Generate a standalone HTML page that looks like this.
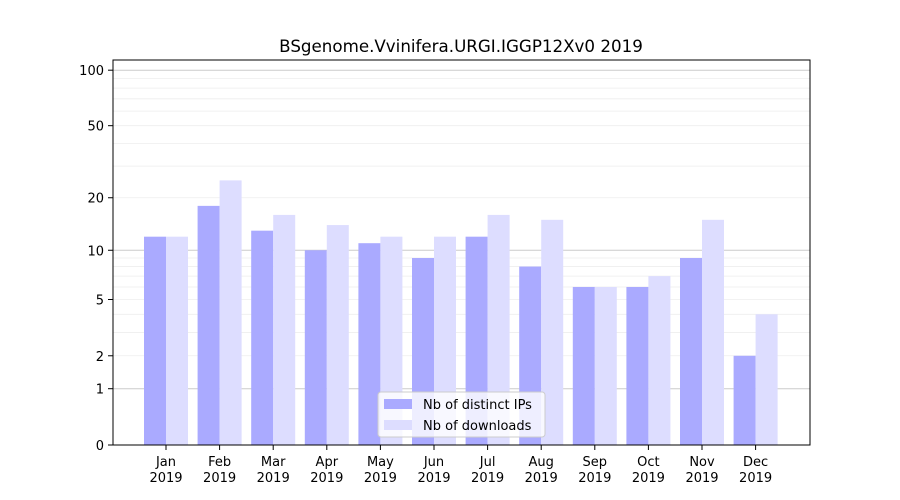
<!DOCTYPE html>
<html><head><meta charset="utf-8"><style>
body{margin:0;background:#fff;}
svg{display:block;font-family:"DejaVu Sans","Liberation Sans",sans-serif;}
</style></head><body>
<svg id="chart" width="900" height="500" viewBox="0 0 900 500">
<rect width="900" height="500" fill="#fff"/>
<text x="461" y="52" text-anchor="middle" font-size="16.7">BSgenome.Vvinifera.URGI.IGGP12Xv0 2019</text>
<g id="grid"></g>
<g id="bars"></g>
<rect x="113" y="60" width="697" height="385" fill="none" stroke="#000" stroke-width="1"/>
<g id="axes"></g>
<g>
<rect x="378" y="392" width="167" height="45" fill="#fff" fill-opacity="0.8" stroke="#ccc" rx="3"/>
<rect x="384" y="399" width="28" height="10" fill="#aaaaff"/>
<text x="423" y="409" font-size="13">Nb of distinct IPs</text>
<rect x="384" y="420" width="28" height="10" fill="#ddddff"/>
<text x="423" y="430" font-size="13">Nb of downloads</text>
</g>
</svg>
<script>
const months=["Jan","Feb","Mar","Apr","May","Jun","Jul","Aug","Sep","Oct","Nov","Dec"];
const ips=[12,18,13,10,11,9,12,8,6,6,9,2];
const downloads=[12,25,16,14,12,12,16,15,6,7,15,4];
const yTicks=[0,1,2,5,10,20,50,100];
const NS="http://www.w3.org/2000/svg";
const y0=445,k=187;
function y(v){return y0-k*Math.log10(1+v);}
function x(i){return 166+i*53.6;}
function mk(t,a,p){const e=document.createElementNS(NS,t);for(const n in a)e.setAttribute(n,a[n]);p.appendChild(e);return e;}
const grid=document.getElementById('grid'),bars=document.getElementById('bars'),axes=document.getElementById('axes');
const minor=[2,3,4,5,6,7,8,9,20,30,40,50,60,70,80,90];
minor.forEach(v=>{const l=mk('line',{x1:113,x2:810,y1:y(v),y2:y(v),stroke:'#eeeeee','stroke-width':0.8},grid);

});
[1,10,100].forEach(v=>{const l=mk('line',{x1:113,x2:810,y1:y(v),y2:y(v),stroke:'#cccccc','stroke-width':1},grid);

});
months.forEach((m,i)=>{
 const a=mk('rect',{x:x(i)-22,y:y(ips[i]),width:22,height:y0-y(ips[i]),fill:'#aaaaff'},bars);
 
 
 const b=mk('rect',{x:x(i),y:y(downloads[i]),width:22,height:y0-y(downloads[i]),fill:'#ddddff'},bars);
 
 
 mk('line',{x1:x(i),x2:x(i),y1:445,y2:450,stroke:'#000'},axes);
 const t=mk('text',{x:x(i),y:466,'text-anchor':'middle','font-size':13},axes);
 t.textContent=m;
 
 
 const t2=mk('text',{x:x(i),y:482,'text-anchor':'middle','font-size':13},axes);
 t2.textContent='2019';
 
 
});
yTicks.forEach(v=>{
 mk('line',{x1:108,x2:113,y1:y(v),y2:y(v),stroke:'#000'},axes);
 const t=mk('text',{x:104,y:y(v)+5,'text-anchor':'end','font-size':13},axes);
 t.textContent=v;
 
 
});
</script>
</body></html>
